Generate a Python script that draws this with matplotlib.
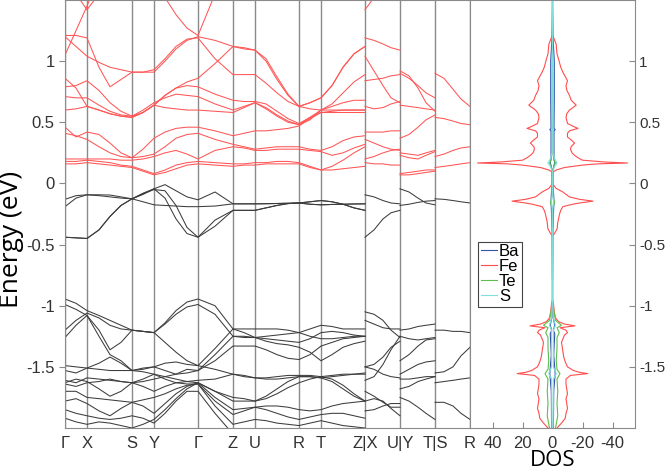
import numpy as np
import matplotlib.pyplot as plt

plt.rcParams['font.family'] = ['Liberation Sans', 'DejaVu Sans']

# k-path (distance along path), high-symmetry points
k_path = [0, 11, 22, 34, 45, 56, 67, 78, 89, 100, 111, 122, 133, 150, 168,
          179, 190, 201, 212, 223, 234, 245, 256, 267, 278, 289, 300]
k_xu = [300, 309, 318, 326, 335]
k_yt = [335, 344, 353, 361, 370]
k_sr = [370, 379, 388, 396, 405]

sym_pos = [0, 22, 67, 89, 133, 168, 190, 234, 256, 300, 335, 370, 405]
sym_labels = ['Γ', 'X', 'S', 'Y', 'Γ', 'Z', 'U', 'R', 'T', 'Z|X', 'U|Y', 'T|S', 'R']

# conduction bands (eV) along Γ-X-S-Y-Γ-Z-U-R-T-Z
cond_path = [
    [0.16, 0.16, 0.17, 0.16, 0.15, 0.14, 0.13, 0.10, 0.07, 0.09, 0.12, 0.15, 0.16, 0.15, 0.14, 0.15, 0.15, 0.16, 0.16, 0.16, 0.16, 0.13, 0.11, 0.11, 0.12, 0.13, 0.14],
    [0.18, 0.18, 0.19, 0.18, 0.17, 0.15, 0.14, 0.11, 0.08, 0.11, 0.15, 0.17, 0.18, 0.17, 0.16, 0.16, 0.17, 0.17, 0.18, 0.18, 0.17, 0.14, 0.11, 0.14, 0.19, 0.25, 0.30],
    [0.20, 0.20, 0.20, 0.20, 0.20, 0.19, 0.19, 0.20, 0.22, 0.25, 0.27, 0.24, 0.20, 0.27, 0.30, 0.29, 0.27, 0.27, 0.28, 0.28, 0.28, 0.27, 0.26, 0.23, 0.25, 0.29, 0.32],
    [0.41, 0.39, 0.36, 0.30, 0.25, 0.22, 0.21, 0.22, 0.24, 0.30, 0.37, 0.40, 0.41, 0.36, 0.32, 0.30, 0.28, 0.29, 0.30, 0.30, 0.30, 0.28, 0.27, 0.30, 0.35, 0.38, 0.39],
    [0.46, 0.38, 0.42, 0.40, 0.33, 0.25, 0.21, 0.28, 0.37, 0.42, 0.45, 0.46, 0.46, 0.43, 0.39, 0.41, 0.43, 0.43, 0.44, 0.45, 0.47, 0.53, 0.58, 0.58, 0.58, 0.58, 0.58],
    [0.60, 0.61, 0.63, 0.60, 0.57, 0.55, 0.54, 0.58, 0.64, 0.62, 0.61, 0.60, 0.60, 0.59, 0.58, 0.62, 0.66, 0.62, 0.56, 0.51, 0.48, 0.54, 0.60, 0.60, 0.60, 0.60, 0.60],
    [0.71, 0.70, 0.70, 0.64, 0.59, 0.56, 0.55, 0.60, 0.66, 0.70, 0.73, 0.72, 0.71, 0.65, 0.60, 0.63, 0.66, 0.61, 0.55, 0.50, 0.48, 0.52, 0.60, 0.63, 0.66, 0.68, 0.68],
    [0.79, 0.80, 0.84, 0.76, 0.66, 0.59, 0.55, 0.58, 0.64, 0.72, 0.78, 0.80, 0.79, 0.73, 0.68, 0.67, 0.67, 0.65, 0.59, 0.53, 0.49, 0.54, 0.58, 0.59, 0.60, 0.60, 0.60],
    [0.86, 0.78, 0.63, 0.60, 0.57, 0.55, 0.54, 0.58, 0.64, 0.72, 0.78, 0.83, 0.86, 0.98, 1.12, 1.11, 1.09, 1.00, 0.85, 0.72, 0.63, 0.66, 0.70, 0.80, 0.95, 1.06, 1.12],
    [1.05, 1.25, 1.45, 1.70, 1.90, 2.00, 2.00, 2.00, 1.90, 1.52, 1.38, 1.27, 1.21, 1.55, 1.90, 2.00, 2.00, 2.00, 2.00, 2.00, 2.00, 2.00, 2.00, 2.00, 2.00, 2.00, 2.00],
    [1.80, 1.55, 1.42, 1.55, 1.75, 1.95, 2.00, 2.00, 2.00, 2.00, 2.00, 2.00, 2.00, 2.00, 2.00, 2.00, 2.00, 2.00, 2.00, 2.00, 2.00, 2.00, 2.00, 2.00, 2.00, 2.00, 2.00],
    [1.21, 1.21, 1.19, 0.95, 0.79, 0.85, 0.91, 0.91, 0.93, 1.02, 1.12, 1.18, 1.19, 1.02, 0.89, 0.89, 0.89, 0.82, 0.74, 0.67, 0.63, 0.61, 0.60, 0.65, 0.74, 0.83, 0.89],
    [1.20, 1.12, 1.04, 0.99, 0.95, 0.93, 0.91, 0.91, 0.91, 1.00, 1.10, 1.17, 1.20, 1.17, 1.12, 1.10, 1.09, 1.02, 0.87, 0.73, 0.63, 0.66, 0.70, 0.80, 0.95, 1.06, 1.12],
]

# valence bands along the same path
val_path = [
    [-0.13, -0.10, -0.093, -0.093, -0.095, -0.11, -0.126, -0.09, -0.044, -0.01, -0.06, -0.11, -0.134, -0.07, -0.167, -0.167, -0.167, -0.166, -0.164, -0.162, -0.16, -0.15, -0.14, -0.15, -0.17, -0.20, -0.22],
    [-0.19, -0.12, -0.093, -0.10, -0.11, -0.12, -0.126, -0.15, -0.175, -0.18, -0.185, -0.19, -0.19, -0.185, -0.167, -0.167, -0.167, -0.166, -0.164, -0.162, -0.16, -0.15, -0.14, -0.15, -0.17, -0.20, -0.22],
    [-0.44, -0.445, -0.45, -0.38, -0.27, -0.18, -0.126, -0.08, -0.044, -0.12, -0.29, -0.41, -0.44, -0.35, -0.22, -0.22, -0.22, -0.20, -0.18, -0.165, -0.16, -0.17, -0.175, -0.172, -0.17, -0.168, -0.167],
    [-0.44, -0.445, -0.45, -0.38, -0.27, -0.18, -0.126, -0.085, -0.05, -0.06, -0.18, -0.36, -0.44, -0.30, -0.22, -0.22, -0.22, -0.20, -0.18, -0.165, -0.16, -0.17, -0.175, -0.172, -0.17, -0.168, -0.167],
    [-0.945, -0.98, -1.04, -1.08, -1.12, -1.16, -1.20, -1.21, -1.22, -1.14, -1.04, -0.97, -0.945, -1.00, -1.19, -1.19, -1.19, -1.19, -1.19, -1.20, -1.22, -1.19, -1.16, -1.17, -1.19, -1.19, -1.19],
    [-0.99, -1.03, -1.08, -1.20, -1.36, -1.30, -1.20, -1.21, -1.22, -1.15, -1.07, -1.01, -0.99, -1.07, -1.25, -1.26, -1.26, -1.25, -1.24, -1.23, -1.22, -1.25, -1.27, -1.27, -1.26, -1.25, -1.25],
    [-1.20, -1.12, -1.06, -1.10, -1.16, -1.19, -1.20, -1.21, -1.22, -1.30, -1.38, -1.45, -1.49, -1.35, -1.19, -1.22, -1.26, -1.29, -1.31, -1.32, -1.34, -1.38, -1.45, -1.40, -1.34, -1.31, -1.29],
    [-1.26, -1.16, -1.08, -1.25, -1.40, -1.45, -1.53, -1.52, -1.50, -1.53, -1.56, -1.55, -1.53, -1.45, -1.33, -1.33, -1.33, -1.36, -1.40, -1.43, -1.44, -1.40, -1.33, -1.30, -1.27, -1.26, -1.25],
    [-1.49, -1.50, -1.51, -1.47, -1.42, -1.47, -1.53, -1.51, -1.50, -1.47, -1.46, -1.48, -1.49, -1.52, -1.56, -1.58, -1.59, -1.59, -1.58, -1.57, -1.57, -1.57, -1.58, -1.57, -1.56, -1.56, -1.55],
    [-1.53, -1.55, -1.51, -1.52, -1.53, -1.53, -1.53, -1.54, -1.56, -1.58, -1.56, -1.52, -1.53, -1.40, -1.25, -1.25, -1.26, -1.27, -1.28, -1.29, -1.30, -1.27, -1.22, -1.21, -1.22, -1.24, -1.25],
    [-1.61, -1.63, -1.59, -1.60, -1.61, -1.62, -1.63, -1.62, -1.60, -1.58, -1.60, -1.62, -1.61, -1.60, -1.56, -1.57, -1.59, -1.60, -1.60, -1.59, -1.58, -1.58, -1.59, -1.58, -1.57, -1.56, -1.56],
    [-1.63, -1.60, -1.62, -1.68, -1.74, -1.70, -1.63, -1.66, -1.70, -1.66, -1.63, -1.62, -1.63, -1.70, -1.78, -1.78, -1.78, -1.74, -1.68, -1.62, -1.58, -1.58, -1.59, -1.62, -1.68, -1.74, -1.78],
    [-1.64, -1.66, -1.63, -1.62, -1.60, -1.62, -1.63, -1.60, -1.56, -1.60, -1.63, -1.64, -1.64, -1.78, -1.89, -1.86, -1.83, -1.85, -1.88, -1.91, -1.93, -1.91, -1.89, -1.88, -1.88, -1.90, -1.92],
    [-1.70, -1.70, -1.75, -1.76, -1.77, -1.78, -1.79, -1.77, -1.75, -1.72, -1.68, -1.65, -1.64, -1.82, -1.97, -1.95, -1.93, -1.94, -1.96, -1.97, -1.98, -1.96, -1.94, -1.96, -1.98, -1.99, -2.00],
    [-1.78, -1.76, -1.80, -1.86, -1.90, -1.84, -1.79, -1.82, -1.88, -1.80, -1.72, -1.66, -1.63, -1.75, -1.85, -1.84, -1.83, -1.82, -1.82, -1.83, -1.85, -1.86, -1.85, -1.82, -1.80, -1.79, -1.78],
    [-1.85, -1.88, -1.90, -1.92, -1.93, -1.92, -1.90, -1.92, -1.96, -1.88, -1.78, -1.70, -1.70, -1.88, -2.05, -2.10, -2.10, -2.10, -2.10, -2.10, -2.10, -2.10, -2.10, -2.10, -2.10, -2.10, -2.10],
    [-1.92, -1.95, -1.97, -1.95, -1.96, -1.98, -2.00, -1.97, -1.93, -1.85, -1.76, -1.68, -1.63, -1.70, -1.75, -1.76, -1.78, -1.76, -1.72, -1.67, -1.63, -1.60, -1.58, -1.60, -1.65, -1.72, -1.78],
]

# short segments X-U, Y-T, S-R
cond_xu = [
    [0.17, 0.16, 0.16, 0.15, 0.15],
    [0.20, 0.22, 0.25, 0.27, 0.28],
    [0.36, 0.33, 0.30, 0.28, 0.27],
    [0.42, 0.42, 0.42, 0.43, 0.43],
    [0.63, 0.61, 0.62, 0.65, 0.67],
    [0.84, 0.85, 0.86, 0.88, 0.89],
    [1.04, 0.92, 0.80, 0.70, 0.66],
    [1.19, 1.17, 1.14, 1.11, 1.09],
    [1.42, 1.52, 1.70, 1.90, 2.00],
]
cond_yt = [
    [0.07, 0.07, 0.08, 0.09, 0.10],
    [0.08, 0.09, 0.10, 0.11, 0.11],
    [0.23, 0.21, 0.20, 0.23, 0.26],
    [0.25, 0.24, 0.23, 0.25, 0.27],
    [0.37, 0.40, 0.46, 0.52, 0.56],
    [0.64, 0.63, 0.62, 0.61, 0.60],
    [0.90, 0.86, 0.80, 0.74, 0.70],
    [0.92, 0.88, 0.78, 0.66, 0.59],
]
cond_sr = [
    [0.13, 0.14, 0.15, 0.16, 0.17],
    [0.22, 0.24, 0.27, 0.29, 0.30],
    [0.54, 0.53, 0.51, 0.49, 0.48],
    [0.90, 0.86, 0.77, 0.69, 0.63],
]
val_xu = [
    [-0.093, -0.11, -0.14, -0.16, -0.167],
    [-0.44, -0.38, -0.29, -0.24, -0.22],
    [-1.05, -1.07, -1.12, -1.20, -1.26],
    [-1.12, -1.15, -1.18, -1.19, -1.19],
    [-1.50, -1.48, -1.42, -1.34, -1.29],
    [-1.61, -1.58, -1.48, -1.36, -1.25],
    [-1.50, -1.52, -1.56, -1.58, -1.59],
    [-1.70, -1.74, -1.79, -1.83, -1.83],
    [-1.78, -1.76, -1.78, -1.84, -1.90],
    [-1.86, -1.85, -1.82, -1.80, -1.80],
]
val_yt = [
    [-0.044, -0.07, -0.12, -0.16, -0.175],
    [-0.18, -0.17, -0.155, -0.145, -0.14],
    [-1.20, -1.19, -1.17, -1.16, -1.15],
    [-1.25, -1.27, -1.28, -1.27, -1.26],
    [-1.45, -1.40, -1.33, -1.28, -1.27],
    [-1.56, -1.52, -1.48, -1.46, -1.45],
    [-1.60, -1.60, -1.59, -1.58, -1.58],
    [-1.68, -1.66, -1.62, -1.60, -1.58],
    [-1.75, -1.78, -1.83, -1.88, -1.93],
]
val_sr = [
    [-0.126, -0.13, -0.14, -0.15, -0.16],
    [-1.20, -1.20, -1.21, -1.21, -1.22],
    [-1.55, -1.54, -1.50, -1.41, -1.34],
    [-1.63, -1.62, -1.61, -1.60, -1.59],
    [-1.79, -1.79, -1.82, -1.88, -1.93],
]

# projected DOS (mirrored on both sides)
fe_e = [1.50, 1.22, 1.20, 1.14, 1.06, 1.01, 0.95, 0.91, 0.84, 0.80, 0.76, 0.72, 0.68, 0.64, 0.60,
        0.57, 0.54, 0.49, 0.46, 0.45, 0.43, 0.41, 0.38, 0.35, 0.33, 0.30, 0.28, 0.25, 0.23, 0.21,
        0.19, 0.175, 0.167, 0.16, 0.15, 0.13, 0.11, 0.09, 0.06, 0.0, -0.01, -0.04, -0.07, -0.11, -0.13,
        -0.145, -0.16, -0.17, -0.19, -0.22, -0.25, -0.32, -0.37, -0.41, -0.43, -0.45, -0.95, -1.00, -1.05, -1.10,
        -1.13, -1.15, -1.165, -1.18, -1.20, -1.22, -1.24, -1.27, -1.30, -1.34, -1.38, -1.42, -1.46, -1.50, -1.53,
        -1.545, -1.555, -1.57, -1.60, -1.64, -1.68, -1.72, -1.76, -1.80, -1.84, -1.88, -1.92, -1.96, -2.00]
fe_dos = [0, 0, 0.5, 2.4, 3.0, 4.2, 5.5, 6.9, 10.0, 9.0, 9.6, 11.3, 12.5, 15.8, 11.3,
          9.5, 9.0, 10.0, 15.0, 17.0, 11.3, 10.0, 10.0, 13.0, 14.7, 12.4, 12.0, 13.0, 14.7, 17.0,
          20.0, 35.0, 50.0, 30.0, 20.0, 8.0, 2.4, 0, 0, 0, 0.5, 2.4, 6.9, 11.3, 18.0,
          27.0, 18.0, 13.5, 6.9, 5.5, 4.7, 3.5, 3.1, 1.3, 0, 0, 0, 0.8, 1.2, 2.0,
          4.0, 8.0, 15.0, 5.0, 9.0, 10.0, 8.0, 7.0, 6.0, 6.5, 7.0, 7.5, 8.5, 10.0, 14.0,
          18.0, 23.5, 12.0, 9.0, 9.0, 9.5, 10.0, 9.0, 9.5, 10.0, 9.0, 8.5, 6.0, 3.0]
te_e = [1.50, 0.25, 0.19, 0.167, 0.15, 0.10, -0.10, -0.14, -0.15, -0.17, -0.20, -0.95, -1.05, -1.12,
        -1.16, -1.18, -1.22, -1.26, -1.35, -1.45, -1.52, -1.555, -1.60, -1.70, -1.80, -1.90, -2.00]
te_dos = [0, 0.3, 1.0, 2.0, 1.0, 0.3, 0.3, 1.0, 1.5, 1.0, 0.3, 0, 1.0, 2.0,
          6.0, 3.0, 4.5, 3.0, 3.0, 2.5, 3.0, 5.0, 3.0, 3.5, 3.0, 3.5, 2.0]
ba_e = [1.50, 1.20, 1.0, 0.7, 0.45, 0.44, 0.43, 0.3, 0.2, 0.17, 0.12, 0.0, -0.1, -0.15, -0.2,
        -0.4, -0.95, -1.1, -1.16, -1.20, -1.23, -1.4, -1.555, -1.7, -2.0]
ba_dos = [0, 0.3, 1.2, 1.2, 1.0, 1.8, 1.0, 1.0, 1.0, 1.5, 0.5, 0.3, 0.8, 1.0, 0.8,
          0.2, 0, 0.5, 1.5, 0.6, 1.5, 0.8, 1.8, 0.8, 0.6]
s_e = [1.50, 0.25, 0.20, 0.167, 0.14, 0.10, -0.10, -0.15, -0.20, -0.95, -1.10, -1.16, -1.20,
       -1.50, -1.555, -1.60, -2.00]
s_dos = [0, 0.3, 1.5, 3.0, 1.5, 0.2, 0.2, 0.8, 0.2, 0, 0.6, 2.0, 0.6, 0.6, 2.5, 0.6, 0.4]

species = ['Ba', 'Fe', 'Te', 'S']
sp_colors = ['#3355aa', '#ff4d4d', '#5cbf4a', '#7fdede']
sp_e = [ba_e, fe_e, te_e, s_e]
sp_dos = [ba_dos, fe_dos, te_dos, s_dos]

yticks = [-1.5, -1, -0.5, 0, 0.5, 1]
ytick_labels = ['-1.5', '-1', '-0.5', '0', '0.5', '1']

W, H = 666, 474
fig = plt.figure(figsize=(W / 100, H / 100), dpi=100)
ax = fig.add_axes([65 / W, 1 - 428 / H, (470 - 65) / W, 428 / H])
ax2 = fig.add_axes([470 / W, 1 - 428 / H, (635 - 470) / W, 428 / H])

red = '#ff5555'
blk = '#3c3c3c'
grey = '#8a8a8a'

for x in sym_pos:
    ax.axvline(x, color=grey, lw=1.0, zorder=1)

for k, cb, vb in [(k_path, cond_path, val_path), (k_xu, cond_xu, val_xu),
                  (k_yt, cond_yt, val_yt), (k_sr, cond_sr, val_sr)]:
    for b in cb:
        ax.plot(k, b, color=red, lw=0.75, zorder=2)
    for b in vb:
        ax.plot(k, b, color=blk, lw=0.75, zorder=2)

ax.set_xlim(0, 405)
ax.set_ylim(-2.0, 1.5)
ax.set_xticks(sym_pos)
ax.set_xticklabels(sym_labels)
ax.set_yticks(yticks)
ax.set_yticklabels(ytick_labels)
ax.tick_params(axis='x', length=0, pad=6, labelsize=12, labelcolor='#333333')
ax.tick_params(axis='y', direction='out', length=4, color=grey, labelsize=12, labelcolor='#333333')
for s in ax.spines.values():
    s.set_color(grey)
ax.set_ylabel('Energy (eV)', fontsize=19, family=['Open Sans', 'DejaVu Sans'])
ax.yaxis.set_label_coords(-0.1, 0.44)

# DOS panel
lines = []
for name, c, e, d in zip(species, sp_colors, sp_e, sp_dos):
    d = np.array(d)
    l, = ax2.plot(d, e, color=c, lw=0.8, label=name)
    ax2.plot(-d, e, color=c, lw=0.8)
    lines.append(l)

ax2.set_xlim(55, -55)
ax2.set_ylim(-2.0, 1.5)
ax2.set_xticks([40, 20, 0, -20, -40])
ax2.set_xticklabels(['40', '20', '0', '-20', '-40'])
ax2.yaxis.tick_right()
ax2.set_yticks(yticks)
ax2.set_yticklabels(ytick_labels)
ax2.tick_params(axis='x', direction='in', length=4, color=grey, labelsize=12,
                labelcolor='#333333', pad=6)
ax2.tick_params(axis='y', direction='in', length=4, color=grey, labelsize=11,
                labelcolor='#333333', pad=3)
for s in ax2.spines.values():
    s.set_color(grey)
ax2.set_xlabel('DOS', fontsize=16, family=['Open Sans', 'DejaVu Sans'], labelpad=-1)

leg = ax2.legend(handles=lines, loc='upper left', bbox_to_anchor=(0.05, 0.435),
                 fontsize=12, handlelength=1.0, handletextpad=0.1, borderpad=0.15,
                 labelspacing=0.0, borderaxespad=0, fancybox=False, framealpha=1)
leg.get_frame().set_edgecolor('#444444')
leg.get_frame().set_linewidth(0.8)

fig.savefig('out.png', dpi=100)
